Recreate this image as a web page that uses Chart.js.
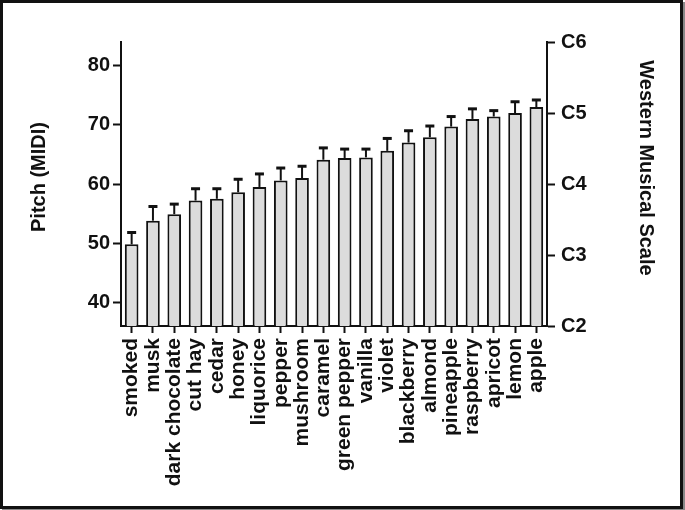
<!DOCTYPE html>
<html>
<head>
<meta charset="utf-8">
<script src="https://cdn.jsdelivr.net/npm/chart.js@4.4.1/dist/chart.umd.min.js"></script>
<style>
  html, body { margin: 0; padding: 0; background: #fff; }
  #wrap { position: relative; width: 685px; height: 510px; }
  #frame {
    position: absolute; left: 0; top: 0; width: 683px; height: 509px;
    box-sizing: border-box; border: 3px solid #111; box-shadow: 2px 2px 0 #888;
    pointer-events: none;
  }
</style>
</head>
<body>
<div id="wrap">
  <canvas id="myChart" width="685" height="510"></canvas>
  <div id="frame"></div>
</div>
<script>
const odours = ["smoked", "musk", "dark chocolate", "cut hay", "cedar", "honey", "liquorice", "pepper",
  "mushroom", "caramel", "green pepper", "vanilla", "violet", "blackberry", "almond", "pineapple",
  "raspberry", "apricot", "lemon", "apple"];
const pitchMean = [49.8, 53.8, 54.9, 57.2, 57.5, 58.6, 59.5, 60.6, 61.0, 64.1, 64.4, 64.5, 65.6, 67.0,
  67.9, 69.7, 71.0, 71.4, 72.0, 73.0];
const pitchErr = [2.0, 2.4, 1.7, 2.0, 1.7, 2.2, 2.2, 2.1, 2.0, 2.0, 1.5, 1.4, 2.1, 2.0, 1.9, 1.7, 1.7,
  1.0, 1.9, 1.2];
const midiTicks = [40, 50, 60, 70, 80];
const noteTicks = [36, 48, 60, 72, 84];
const noteLabels = ["C2", "C3", "C4", "C5", "C6"];

const ink = "#111";
const fam = "Liberation Sans, Arial, sans-serif";
const tickFont = { family: fam, size: 20, weight: "bold" };
const catFont = { family: fam, size: 21, weight: "bold" };

// upward error bars with caps, drawn from the data through the y scale
const errorBars = {
  id: "errorBars",
  afterDatasetsDraw(chart) {
    const ctx = chart.ctx;
    const y = chart.scales.y;
    const meta = chart.getDatasetMeta(0);
    ctx.save();
    ctx.strokeStyle = ink;
    meta.data.forEach(function (bar, i) {
      const top = y.getPixelForValue(pitchMean[i]);
      const end = y.getPixelForValue(pitchMean[i] + pitchErr[i]);
      ctx.lineWidth = 2;
      ctx.beginPath();
      ctx.moveTo(bar.x, top);
      ctx.lineTo(bar.x, end);
      ctx.stroke();
      ctx.lineWidth = 3;
      ctx.beginPath();
      ctx.moveTo(bar.x - 4.5, end);
      ctx.lineTo(bar.x + 4.5, end);
      ctx.stroke();
    });
    ctx.restore();
  },
};

// axis titles, sitting a little above the middle of the axes like the original
const axisTitles = {
  id: "axisTitles",
  afterDraw(chart) {
    const ctx = chart.ctx;
    const area = chart.chartArea;
    const mid = (area.top + area.bottom) / 2;
    ctx.save();
    ctx.fillStyle = ink;
    ctx.font = "bold 20px " + fam;
    ctx.textAlign = "center";
    ctx.textBaseline = "middle";
    ctx.translate(39, mid - 7);
    ctx.rotate(-Math.PI / 2);
    ctx.fillText("Pitch (MIDI)", 0, 0);
    ctx.restore();
    ctx.save();
    ctx.fillStyle = ink;
    ctx.font = "bold 20px " + fam;
    ctx.textAlign = "center";
    ctx.textBaseline = "middle";
    ctx.translate(646, mid - 16);
    ctx.rotate(Math.PI / 2);
    ctx.fillText("Western Musical Scale", 0, 0);
    ctx.restore();
  },
};

const ctx = document.getElementById("myChart").getContext("2d");

new Chart(ctx, {
  type: "bar",
  data: {
    labels: odours,
    datasets: [
      {
        data: pitchMean,
        backgroundColor: "#dcdcdc",
        borderColor: ink,
        borderWidth: 2,
        borderSkipped: false,
        barPercentage: 0.64,
        categoryPercentage: 1,
      },
    ],
  },
  options: {
    responsive: false,
    animation: false,
    layout: { padding: { top: 42, left: 0, right: 0, bottom: 0 } },
    plugins: {
      legend: { display: false },
      tooltip: { enabled: false },
    },
    scales: {
      x: {
        offset: true,
        afterFit: function (scale) {
          scale.height = 184;
        },
        grid: { drawOnChartArea: false, offset: false, tickLength: 7, tickWidth: 2, tickColor: ink },
        border: { color: ink, width: 2 },
        ticks: { color: ink, font: catFont, maxRotation: 90, minRotation: 90, padding: 5, autoSkip: false },
      },
      y: {
        position: "left",
        min: 36,
        max: 84,
        afterBuildTicks: function (scale) {
          scale.ticks = midiTicks.map((v) => ({ value: v }));
        },
        afterFit: function (scale) {
          scale.width = 121;
        },
        grid: { drawOnChartArea: false, tickLength: 8, tickWidth: 2, tickColor: ink },
        border: { color: ink, width: 2 },
        ticks: { color: ink, font: tickFont, padding: 3 },
      },
      note: {
        position: "right",
        min: 36,
        max: 84,
        afterBuildTicks: function (scale) {
          scale.ticks = noteTicks.map((v) => ({ value: v }));
        },
        afterFit: function (scale) {
          scale.width = 138;
        },
        grid: { drawOnChartArea: false, tickLength: 8, tickWidth: 2, tickColor: ink },
        border: { color: ink, width: 2 },
        ticks: {
          color: ink,
          font: tickFont,
          padding: 6,
          callback: function (value, index) {
            return noteLabels[index];
          },
        },
      },
    },
  },
  plugins: [errorBars, axisTitles],
});
</script>
</body>
</html>
